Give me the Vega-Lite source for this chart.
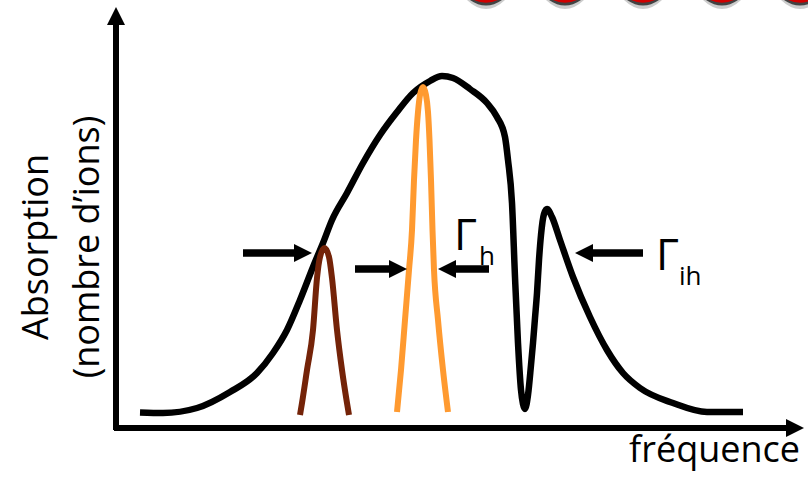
{
  "$schema": "https://vega.github.io/schema/vega-lite/v6.json",
  "width": 808,
  "height": 479,
  "autosize": "none",
  "padding": 0,
  "background": "white",
  "config": {"view": {"stroke": null}},
  "datasets": {
    "envelope": [
      {"x": 24, "y": 15.5}, {"x": 47, "y": 15}, {"x": 81, "y": 20}, {"x": 114, "y": 36},
      {"x": 141, "y": 55}, {"x": 157, "y": 75}, {"x": 171, "y": 98}, {"x": 184, "y": 128},
      {"x": 197, "y": 161}, {"x": 207, "y": 185}, {"x": 216, "y": 208}, {"x": 231, "y": 235},
      {"x": 247, "y": 265}, {"x": 264, "y": 293}, {"x": 281, "y": 316}, {"x": 297, "y": 335},
      {"x": 314, "y": 347}, {"x": 326, "y": 352}, {"x": 337, "y": 350}, {"x": 354, "y": 339},
      {"x": 371, "y": 325}, {"x": 381, "y": 311}, {"x": 389, "y": 291}, {"x": 392, "y": 268},
      {"x": 396, "y": 225}, {"x": 399, "y": 151}, {"x": 402, "y": 85}, {"x": 405, "y": 38},
      {"x": 407, "y": 24}, {"x": 409, "y": 19}, {"x": 412, "y": 33}, {"x": 415, "y": 63},
      {"x": 417, "y": 85}, {"x": 419, "y": 110}, {"x": 421, "y": 135}, {"x": 423, "y": 168},
      {"x": 425, "y": 193}, {"x": 428, "y": 214}, {"x": 431, "y": 219}, {"x": 436, "y": 211},
      {"x": 444, "y": 188}, {"x": 457, "y": 151}, {"x": 474, "y": 111}, {"x": 491, "y": 78},
      {"x": 507, "y": 55}, {"x": 524, "y": 40}, {"x": 557, "y": 25}, {"x": 591, "y": 16},
      {"x": 627, "y": 16}
    ],
    "brown": [
      {"x": 184, "y": 13}, {"x": 186, "y": 25}, {"x": 191, "y": 58}, {"x": 197, "y": 98},
      {"x": 201, "y": 150}, {"x": 204, "y": 171}, {"x": 208.5, "y": 180}, {"x": 213, "y": 171},
      {"x": 216, "y": 150}, {"x": 221, "y": 98}, {"x": 226, "y": 58}, {"x": 231, "y": 25},
      {"x": 233, "y": 13}
    ],
    "orange": [
      {"x": 281, "y": 16}, {"x": 285, "y": 58}, {"x": 289, "y": 108}, {"x": 293, "y": 158},
      {"x": 296, "y": 198}, {"x": 298, "y": 248}, {"x": 300, "y": 288}, {"x": 302, "y": 316},
      {"x": 304, "y": 333}, {"x": 307, "y": 341}, {"x": 310, "y": 333}, {"x": 312, "y": 316},
      {"x": 313.5, "y": 288}, {"x": 315, "y": 248}, {"x": 316.5, "y": 198}, {"x": 318, "y": 158},
      {"x": 322, "y": 108}, {"x": 327, "y": 58}, {"x": 332, "y": 16}
    ],
    "axes": [
      {"x": 0, "y": -2, "x2": 0, "y2": 410},
      {"x": -2, "y": 0, "x2": 680, "y2": 0}
    ],
    "shafts": [
      {"x": 127, "y": 175, "x2": 185, "y2": 175},
      {"x": 239, "y": 159, "x2": 280, "y2": 159},
      {"x": 373, "y": 159, "x2": 333, "y2": 159},
      {"x": 527, "y": 175, "x2": 470, "y2": 175}
    ],
    "heads": [
      {"x": 196, "y": 175, "dir": "right"},
      {"x": 291, "y": 159, "dir": "right"},
      {"x": 322, "y": 159, "dir": "left"},
      {"x": 459, "y": 175, "dir": "left"},
      {"x": 0, "y": 421, "dir": "up"},
      {"x": 688, "y": 0, "dir": "right"}
    ],
    "beads": [
      {"x": 370, "y": 428}, {"x": 449, "y": 428}, {"x": 527, "y": 428},
      {"x": 606, "y": 428}, {"x": 684, "y": 428}
    ],
    "bigLabels": [
      {"x": 338, "y": 178, "t": "Γ"},
      {"x": 540, "y": 158, "t": "Γ"}
    ],
    "subLabels": [
      {"x": 363, "y": 163, "t": "h"},
      {"x": 563, "y": 143, "t": "ih"}
    ],
    "yTitle": [
      {"x": -68, "y": 181, "t": "Absorption"},
      {"x": -17, "y": 181, "t": "(nombre d’ions)"}
    ],
    "xTitle": [
      {"x": 684, "y": -34, "t": "fréquence"}
    ]
  },
  "encoding": {
    "x": {"field": "x", "type": "quantitative", "scale": {"domain": [-116, 692], "nice": false, "zero": false}, "axis": null},
    "y": {"field": "y", "type": "quantitative", "scale": {"domain": [-51, 428], "nice": false, "zero": false}, "axis": null}
  },
  "layer": [
    {
      "data": {"name": "beads"},
      "mark": {"type": "point", "filled": true, "shape": "M-1,0Q0,0.95,1,0Z", "size": 1444, "color": "#999999", "opacity": 0.5, "strokeWidth": 0}
    },
    {
      "data": {"name": "beads"},
      "mark": {"type": "point", "filled": true, "shape": "M-1,0Q0,0.7,1,0Z", "size": 1024, "color": "#333333", "opacity": 0.9, "strokeWidth": 0}
    },
    {
      "data": {"name": "beads"},
      "mark": {"type": "point", "filled": true, "shape": "M-1,0Q0,0.45,1,0Z", "size": 576, "color": "#d00000", "opacity": 1, "strokeWidth": 0}
    },
    {
      "data": {"name": "axes"},
      "mark": {"type": "rule", "color": "black", "strokeWidth": 6},
      "encoding": {"x2": {"field": "x2"}, "y2": {"field": "y2"}}
    },
    {
      "data": {"name": "envelope"},
      "mark": {"type": "line", "color": "black", "strokeWidth": 6.5, "interpolate": "monotone"}
    },
    {
      "data": {"name": "brown"},
      "mark": {"type": "line", "color": "#742308", "strokeWidth": 6, "interpolate": "monotone"}
    },
    {
      "data": {"name": "orange"},
      "mark": {"type": "line", "color": "#ff9a30", "strokeWidth": 6, "interpolate": "monotone"}
    },
    {
      "data": {"name": "shafts"},
      "mark": {"type": "rule", "color": "black", "strokeWidth": 7.5},
      "encoding": {"x2": {"field": "x2"}, "y2": {"field": "y2"}}
    },
    {
      "data": {"name": "heads"},
      "mark": {"type": "point", "filled": true, "size": 324, "color": "black", "opacity": 1, "strokeWidth": 0},
      "encoding": {
        "shape": {"field": "dir", "type": "nominal", "scale": {"domain": ["right", "left", "up"], "range": ["M0,0L-2,-1L-2,1Z", "M0,0L2,-1L2,1Z", "M0,0L-1,2L1,2Z"]}, "legend": null}
      }
    },
    {
      "data": {"name": "bigLabels"},
      "mark": {"type": "text", "font": "Open Sans", "fontSize": 44, "align": "left", "baseline": "alphabetic", "color": "black"},
      "encoding": {"text": {"field": "t"}}
    },
    {
      "data": {"name": "subLabels"},
      "mark": {"type": "text", "font": "Open Sans", "fontSize": 26, "align": "left", "baseline": "alphabetic", "color": "black"},
      "encoding": {"text": {"field": "t"}}
    },
    {
      "data": {"name": "yTitle"},
      "mark": {"type": "text", "font": "Open Sans", "fontSize": 36, "align": "center", "baseline": "alphabetic", "angle": 270, "color": "black"},
      "encoding": {"text": {"field": "t"}}
    },
    {
      "data": {"name": "xTitle"},
      "mark": {"type": "text", "font": "Open Sans", "fontSize": 36, "align": "right", "baseline": "alphabetic", "color": "black"},
      "encoding": {"text": {"field": "t"}}
    }
  ]
}
